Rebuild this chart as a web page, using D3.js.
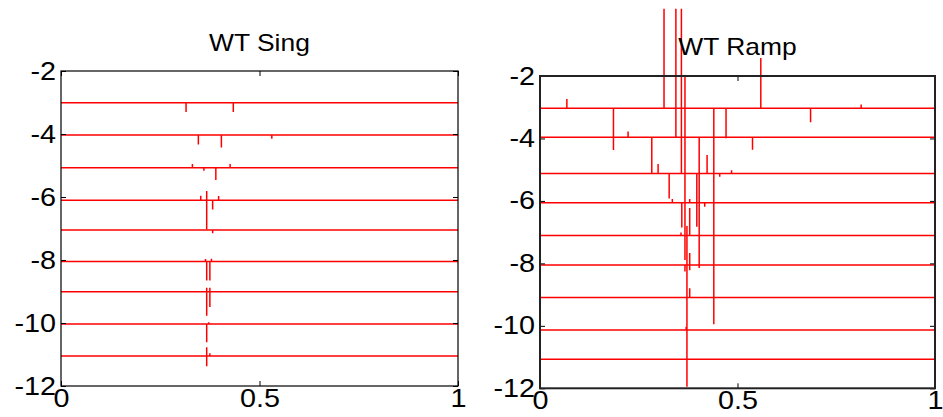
<!DOCTYPE html>
<html>
<head>
<meta charset="utf-8">
<script src="https://cdn.jsdelivr.net/npm/d3@7"></script>
<style>
  html, body { margin: 0; padding: 0; background: #fff; }
  svg { display: block; }
  text { font-family: "Liberation Sans", Arial, Helvetica, sans-serif; fill: #000; }
</style>
</head>
<body>
<svg id="chart" width="943" height="417"></svg>
<script>
// Tick values shared by both panels
const xTicks = [0, 0.5, 1];
const yTicks = [-2, -4, -6, -8, -10, -12];
const xTickLabels = ["0", "0.5", "1"];
const yTickLabels = ["-2", "-4", "-6", "-8", "-10", "-12"];

// Left panel: wavelet transform of a singularity
const singTitle = "WT Sing";
const singLevels = [-3.01, -4.03, -5.07, -6.10, -7.05, -8.05, -9.01, -10.03, -11.05];
// coefficient spikes per level: [position, offset from the level baseline]
const singSpikes = [
  [[0.315, -0.29], [0.434, -0.29]],
  [[0.346, -0.30], [0.404, -0.40], [0.531, -0.12]],
  [[0.331, 0.12], [0.360, -0.10], [0.390, -0.39], [0.426, 0.12]],
  [[0.352, 0.14], [0.367, 0.29], [0.367, -0.92], [0.382, -0.30], [0.397, 0.13]],
  [[0.382, -0.10]],
  [[0.364, 0.08], [0.367, -0.60], [0.375, -0.60], [0.379, 0.09]],
  [[0.367, 0.13], [0.367, -0.76], [0.375, -0.48], [0.375, 0.13]],
  [[0.367, -0.58], [0.372, 0.05]],
  [[0.367, 0.28], [0.367, -0.32], [0.375, 0.09]]
];

// Right panel: wavelet transform of a ramp
const rampTitle = "WT Ramp";
const rampLevels = [-3.03, -3.96, -5.12, -6.06, -7.11, -8.05, -9.09, -10.13, -11.07];
const rampSpikes = [
  [[0.068, 0.29], [0.186, -1.34], [0.314, 3.18], [0.367, 1.03], [0.440, -6.92],
   [0.471, -0.96], [0.559, 1.61], [0.685, -0.45], [0.813, 0.12]],
  [[0.223, 0.18], [0.283, -1.15], [0.344, 4.11], [0.403, -4.19], [0.538, -0.40]],
  [[0.299, 0.30], [0.327, -0.80], [0.358, 5.27], [0.397, -1.71], [0.423, 0.59],
   [0.455, -0.11], [0.485, 0.10]],
  [[0.335, 0.12], [0.359, -0.79], [0.367, 3.03], [0.367, -1.06], [0.379, 0.12], [0.417, -0.13]],
  [[0.357, 0.10], [0.367, -0.78], [0.372, 0.31], [0.372, -0.94], [0.379, 0.88]],
  [[0.367, -0.21], [0.372, -2.08], [0.379, 0.38], [0.379, -0.17]],
  [[0.379, 0.29]],
  [[0.370, 0.10], [0.372, -1.82]],
  []
];

// Label sizes and horizontal widening
const TITLE_SIZE = 24;
const TITLE_STRETCH = 1.1;
const TICK_SIZE = 25;
const TICK_STRETCH = 1.15;

const svg = d3.select("#chart");

function stretchText(sel, factor) {
  sel.each(function () {
    const w = this.getComputedTextLength();
    d3.select(this)
      .attr("textLength", w * factor)
      .attr("lengthAdjust", "spacingAndGlyphs");
  });
}

function drawPanel(frame, title, titleY, levels, spikes, frameStroke, frameWidth) {
  const x = d3.scaleLinear().domain([0, 1]).range([frame.x0, frame.x1]);
  const y = d3.scaleLinear().domain([-12, -2]).range([frame.y1, frame.y0]);
  const g = svg.append("g");

  // level traces: baseline with vertical excursions at each coefficient
  const line = d3.line().x(d => x(d[0])).y(d => y(d[1]));
  levels.forEach((base, i) => {
    const pts = [[0, base]];
    spikes[i].slice().sort((a, b) => a[0] - b[0]).forEach(([px, c]) => {
      pts.push([px, base], [px, base + c], [px, base]);
    });
    pts.push([1, base]);
    g.append("path")
      .attr("d", line(pts))
      .attr("fill", "none")
      .attr("stroke", "#ff0000")
      .attr("stroke-width", 1.5)
      .attr("stroke-linejoin", "miter");
  });

  // axes with inward ticks on all four sides
  g.append("g").attr("transform", `translate(${frame.x0},0)`)
    .call(d3.axisLeft(y).tickValues(yTicks).tickSize(-5).tickPadding(5)
      .tickFormat((d, i) => yTickLabels[i]));
  g.append("g").attr("transform", `translate(0,${frame.y1})`)
    .call(d3.axisBottom(x).tickValues(xTicks).tickSize(-5).tickPadding(3)
      .tickFormat((d, i) => xTickLabels[i]));
  g.append("g").attr("transform", `translate(${frame.x1},0)`)
    .call(d3.axisRight(y).tickValues(yTicks).tickSize(-5).tickFormat(""));
  g.append("g").attr("transform", `translate(0,${frame.y0})`)
    .call(d3.axisTop(x).tickValues(xTicks).tickSize(-5).tickFormat(""));

  g.selectAll(".domain").remove();
  g.selectAll(".tick line").attr("stroke", "#000").attr("stroke-width", 1);
  g.selectAll(".tick text")
    .attr("fill", "#000")
    .style("font-size", TICK_SIZE + "px")
    .style("font-family", '"Liberation Sans", Arial, sans-serif')
    .call(stretchText, TICK_STRETCH);

  // plot box
  g.append("rect")
    .attr("x", frame.x0).attr("y", frame.y0)
    .attr("width", frame.x1 - frame.x0).attr("height", frame.y1 - frame.y0)
    .attr("fill", "none").attr("stroke", frameStroke).attr("stroke-width", frameWidth);

  g.append("text")
    .attr("x", (frame.x0 + frame.x1) / 2)
    .attr("y", titleY)
    .attr("text-anchor", "middle")
    .style("font-size", TITLE_SIZE + "px")
    .text(title)
    .call(stretchText, TITLE_STRETCH);
}

drawPanel({ x0: 61, x1: 458, y0: 71, y1: 386 }, singTitle, 51, singLevels, singSpikes, "#000", 1.2);
drawPanel({ x0: 540, x1: 935, y0: 76, y1: 388.3 }, rampTitle, 55, rampLevels, rampSpikes, "#222", 2);
</script>
</body>
</html>
